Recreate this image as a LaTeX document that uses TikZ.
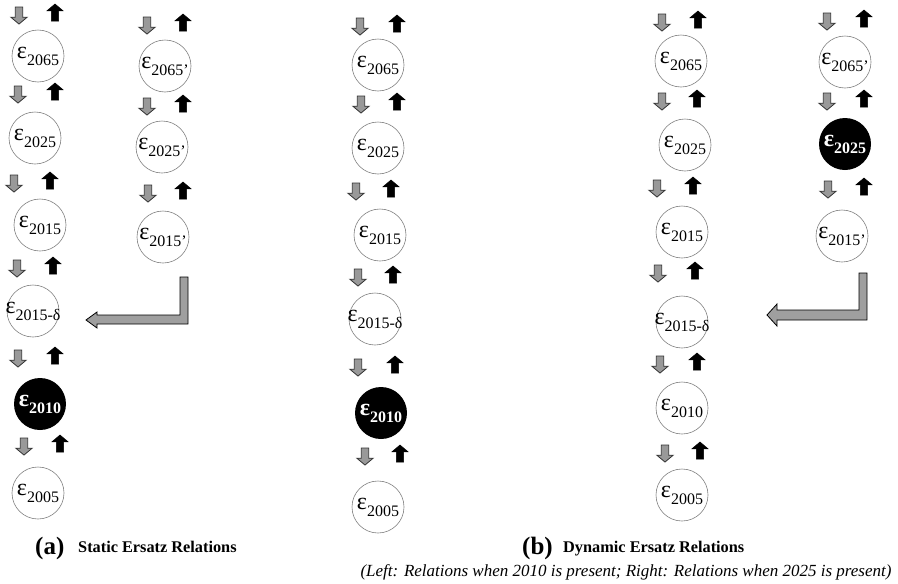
\documentclass[tikz,border=0pt]{standalone}
\usepackage{fontspec}
\setmainfont{Liberation Serif}
\usetikzlibrary{shapes.arrows}
\newcommand{\epsnode}[1]{{\fontsize{24}{24}\selectfont ε}{\fontsize{16}{16}\selectfont\raisebox{-7pt}{#1}}}
\tikzset{
ball/.style={circle,draw=gray,line width=0.6pt,minimum size=52pt,inner sep=0pt},
blackball/.style={circle,fill=black,minimum size=52pt,inner sep=0pt},
downarr/.style={single arrow,shape border rotate=270,draw=black!80,fill=gray!80,line width=0.8pt,
  minimum height=17pt,minimum width=15pt,inner sep=3.3pt,single arrow head extend=4.5pt,single arrow tip angle=100},
uparr/.style={single arrow,shape border rotate=90,draw=black,fill=black,line width=0.5pt,
  minimum height=17pt,minimum width=15pt,inner sep=3.3pt,single arrow head extend=4.5pt,single arrow tip angle=100},
larr/.style={draw=black,fill=gray!75,line width=0.8pt},
}
\begin{document}
\begin{tikzpicture}[x=1pt,y=-1pt]
%\draw[very thin,style=gray!60,step=50] (0,0) grid (898,584);
\useasboundingbox (0,0) rectangle (898,584);
\foreach\dx/\ux/\y [count=\i] in {19/55/14,18/55/93,14/50/182,17/53/267,18/55/357,24/60/445,
147/183/24,147/183/105,148/183/192,
360/397/25,361/397/103,356/391/190,358/393/276,358/395/366,365/400/455,
662/698/21,662/697/100,657/693/187,658/695/272,660/697/363,665/700/452,
827/864/20,827/864/100,828/864/188}
{
\node[downarr] (d\i) at (\dx,\y) {};
\node[uparr] (u\i) at (\ux,\y) {};
}
\foreach\x/\y/\t [count=\i] in {38/56/2065,35/138/2025,40/225/2015,33/311/2015-δ,38/493/2005,
165/66/2065',162/147/2025',163/237/2015',
378/65/2065,378/148/2025,380/235/2015,375/319/2015-δ,378/507/2005,
681/61/2065,685/145/2025,682/232/2015,682/322/2015-δ,682/408/2010,682/495/2005,
845/62/2065',842/236/2015'}
{
\node[ball] (e\i) at (\x,\y) {};
\node (t\i) at (e\i) {\epsnode{\t}};
}
\node[blackball] (b1) at (40,404) {};
\node[text=white,font=\bfseries] (tb1) at (b1) {\epsnode{2010}};
\node[blackball] (b2) at (381,413) {};
\node[text=white,font=\bfseries] (tb2) at (b2) {\epsnode{2010}};
\node[blackball] (b3) at (845,144) {};
\node[text=white,font=\bfseries] (tb3) at (b3) {\epsnode{2025}};
\draw[larr] (180,277) -- (188,277) -- (188,324) -- (97,324) -- (97,328) -- (86,320) -- (97,312) -- (97,315) -- (180,315) -- cycle;
\draw[larr] (859,273) -- (867,273) -- (867,320) -- (777,320) -- (777,326) -- (767,315) -- (777,304) -- (777,310) -- (859,310) -- cycle;
\node[anchor=base west,inner sep=0pt] (capa) at (35,554) {\fontsize{25}{25}\selectfont\bfseries (a)};
\node[anchor=base west,inner sep=0pt] (capatext) at (78,552) {\fontsize{16.3}{16.3}\selectfont\bfseries Static Ersatz Relations};
\node[anchor=base west,inner sep=0pt] (capb) at (522,554) {\fontsize{25}{25}\selectfont\bfseries (b)};
\node[anchor=base west,inner sep=0pt] (capbtext) at (563,552) {\fontsize{16.3}{16.3}\selectfont\bfseries Dynamic Ersatz Relations};
\node[anchor=base,inner sep=0pt] (capnote) at (626,576) {\fontsize{17}{17}\selectfont\itshape (Left: Relations when 2010 is present; Right: Relations when 2025 is present)};
\end{tikzpicture}
\end{document}
